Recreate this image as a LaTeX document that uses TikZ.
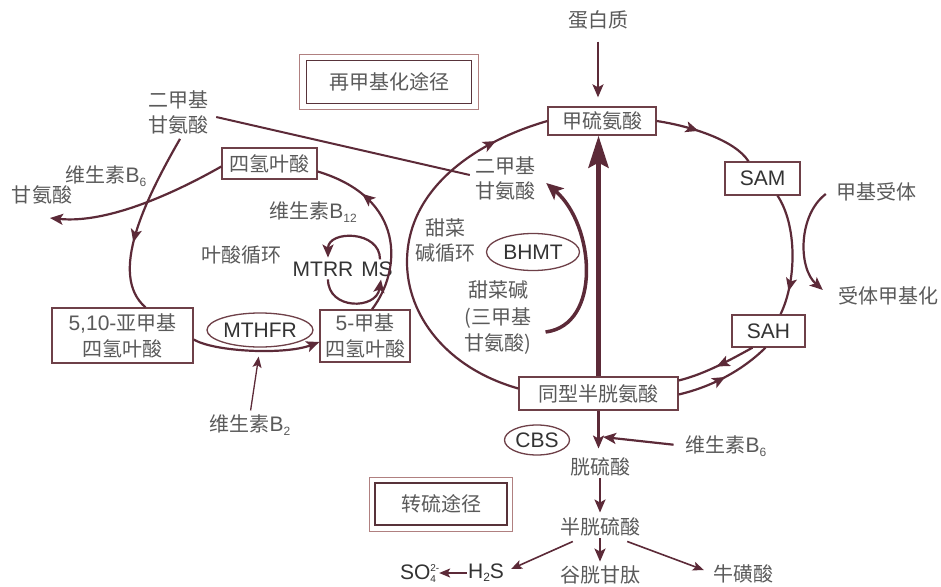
\documentclass[tikz,border=0pt]{standalone}
\usepackage{fontspec}
\setmainfont{Noto Sans CJK SC}
\newfontfamily\lat{Liberation Sans}
\usetikzlibrary{arrows.meta,shapes.geometric,decorations.markings,calc}
\definecolor{lc}{HTML}{5C2A38}
\definecolor{bc}{HTML}{6E4048}
\definecolor{tg}{HTML}{5A5A5A}
\definecolor{td}{HTML}{333333}
\definecolor{ob}{HTML}{B08080}
\newcommand{\Bsub}[1]{{\lat\fontsize{21}{25}\selectfont B\raisebox{-4pt}{\fontsize{12}{12}\selectfont #1}}}
\tikzset{
 cn/.style={font=\fontsize{20}{25}\selectfont, text=tg, inner sep=0pt, align=center},
 la/.style={font=\lat\fontsize{21}{25}\selectfont, text=td, inner sep=0pt},
 bx/.style={cn, draw=bc, line width=1.3pt},
 bxl/.style={la, draw=bc, line width=1.3pt},
 el/.style={la, ellipse, draw=bc, line width=1.3pt},
 inbox/.style={cn, draw=bc!80!black, line width=1.6pt},
 outbox/.style={draw=ob, line width=1pt},
 ln/.style={draw=lc, line width=2.2pt},
 lnthin/.style={draw=lc, line width=1.6pt},
 endarr/.style={-{Stealth[length=13pt,width=11pt,inset=3pt]}},
 endsmall/.style={-{Stealth[length=11pt,width=9pt,inset=2.5pt]}},
 midarr/.style={postaction={decorate,decoration={markings,mark=at position #1 with {\arrow[lc]{Stealth[length=13pt,width=11pt,inset=3pt]}}}}},
}
\begin{document}
\begin{tikzpicture}[x=1pt,y=-1pt]
\fill[white] (0,0) rectangle (941,586);
\useasboundingbox (0,0) rectangle (941,586);

% ---- nodes ----
\node[cn] (prot) at (598,20) {蛋白质};
\node[bx, minimum width=108pt, minimum height=28pt] (met) at (602,121) {甲硫氨酸};
\node[inbox, minimum width=165pt, minimum height=43pt] (remeth) at (389,82) {再甲基化途径};
\draw[outbox] ([xshift=-6pt,yshift=5pt]remeth.north west) rectangle ([xshift=6pt,yshift=-5pt]remeth.south east);

\node[cn] (dmgL) at (178,112) {二甲基\\甘氨酸};
\node[cn] (vb6l) at (106,176) {维生素\Bsub{6}};
\node[cn] (gly) at (42,195) {甘氨酸};
\coordinate (glyend) at (50,218);
\node[bx, minimum width=95pt, minimum height=31pt] (thf) at (269.5,163.5) {四氢叶酸};
\node[cn] (vb12) at (313,212) {维生素\Bsub{12}};
\node[cn] (fcyc) at (241,255) {叶酸循环};
\node[la] (mtrr) at (323,269) {MTRR};
\node[la] (ms) at (377,269) {MS};
\node[bx, minimum width=141pt, minimum height=55pt, font=\fontsize{20}{26}\selectfont] (m510) at (122.5,335.5) {{\lat\fontsize{21}{26}\selectfont 5,10-}亚甲基\\四氢叶酸};
\node[el, minimum width=106pt, minimum height=34pt] (mthfr) at (260,330) {MTHFR};
\node[bx, minimum width=90pt, minimum height=52pt, font=\fontsize{20}{26}\selectfont] (me5) at (365,336) {{\lat\fontsize{21}{26}\selectfont 5-}甲基\\四氢叶酸};
\node[cn] (vb2) at (250,425) {维生素\Bsub{2}};

\node[cn] (dmgR) at (505,178) {二甲基\\甘氨酸};
\node[cn] (bcyc) at (445,240) {甜菜\\碱循环};
\node[el, minimum width=93pt, minimum height=37pt] (bhmt) at (533,252) {BHMT};
\node[cn, font=\fontsize{20}{26.5}\selectfont] (bet) at (498,318) {甜菜碱\\(三甲基\\甘氨酸)};

\node[bxl, minimum width=75pt, minimum height=33pt] (sam) at (762.5,178.5) {SAM};
\node[bxl, minimum width=73pt, minimum height=32pt] (sah) at (768.5,331) {SAH};
\node[cn] (acc) at (876,192) {甲基受体};
\node[cn] (accm) at (888,296) {受体甲基化};
\node[bx, minimum width=159pt, minimum height=33pt] (homo) at (598.5,393.5) {同型半胱氨酸};
\node[el, minimum width=65pt, minimum height=30pt] (cbs) at (537,440) {CBS};
\node[cn] (cyst) at (600,467) {胱硫酸};
\node[cn] (vb6r) at (726,446) {维生素\Bsub{6}};
\coordinate (jn) at (603,437);
\node[cn] (hcys) at (600,527) {半胱硫酸};
\node[cn] (gsh) at (600,575) {谷胱甘肽};
\node[cn] (tau) at (743,574) {牛磺酸};
\node[la] (h2s) at (486,573) {H\raisebox{-3pt}{\fontsize{12}{12}\selectfont 2}S};
\node[la] (so4) at (418,573) {SO\rlap{\raisebox{8pt}{\fontsize{10}{10}\selectfont 2-}}\raisebox{-3pt}{\fontsize{10}{10}\selectfont 4}\hspace{5pt}};
\node[inbox, minimum width=132pt, minimum height=42pt] (sulf) at (441,504) {转硫途径};
\draw[outbox] ([xshift=-5pt,yshift=5pt]sulf.north west) rectangle ([xshift=5pt,yshift=-6pt]sulf.south east);

% ---- connectors ----
\draw[ln, endarr, shorten <=12pt, shorten >=9pt] (prot) -- (prot |- met.north);
% big cycle, left arc
\draw[ln, midarr=0.86] ([yshift=5pt]homo.west) .. controls (446,368) and (407,315) .. (407,262)
      .. controls (407,187) and (478,141) .. (met.west);
% met -> SAM
\draw[ln, midarr=0.42] (met.east) .. controls (690,126) and (735,140) .. ([xshift=-14pt]sam.north);
% SAM -> SAH
\draw[ln, midarr=0.8] ([xshift=15pt]sam.south) .. controls (797,225) and (797,280) .. ([xshift=12pt]sah.north);
% acceptor
\draw[ln, endarr] ([xshift=-10pt,yshift=-2pt]acc.west) .. controls (798,215) and (798,268) .. ([xshift=-15pt,yshift=6pt]accm.west);
% SAH <-> homocysteine
\draw[ln, midarr=0.5] ([xshift=-16pt]sah.south) .. controls (730,360) and (705,374) .. ([yshift=13pt]homo.east);
\draw[ln, midarr=0.5] ([yshift=-1pt]homo.east) .. controls (715,386) and (745,368) .. ([xshift=-3pt]sah.south);
% thick remethylation arrow
\draw[lc, line width=5pt, -{Stealth[length=32pt,width=20pt,inset=5pt]}] (homo.north) -- (homo.north |- met.south);
% folate cycle
\draw[ln, midarr=0.72] ([xshift=7pt]me5.north) .. controls (402,270) and (406,198) .. ([yshift=-8pt]thf.east);
\draw[ln, endarr] ([xshift=3pt,yshift=2pt]ms.north) .. controls (380,230) and (328,230) .. ([xshift=5pt,yshift=4pt]mtrr.north);
\draw[ln, endarr] ([xshift=5pt,yshift=-3pt]mtrr.south) .. controls (328,310) and (376,310) .. ([xshift=4pt,yshift=-3pt]ms.south);
\draw[ln, endarr] ([yshift=-4pt]m510.east) .. controls (215,352) and (285,355) .. ([yshift=-6pt]me5.west);
\draw[lnthin, line width=1.3pt, endsmall, shorten <=4pt, shorten >=9pt] (vb2.north) -- (mthfr.south);
\draw[ln, midarr=0.62] ([xshift=2pt,yshift=-5pt]dmgL.south) .. controls (145,200) and (108,275) .. ([xshift=23pt]m510.north);
\draw[ln, endarr] ([yshift=-3pt]thf.west) .. controls (180,190) and (110,224) .. (glyend);
\draw[ln, line width=2pt] ([xshift=8pt,yshift=-5pt]dmgL.east) -- ([xshift=-5pt,yshift=3pt]dmgR.west);
% BHMT
\draw[lc, line width=3.5pt, -{Stealth[length=17pt,width=15pt,inset=4pt]}] ([xshift=14pt,yshift=-14pt]bet.east) .. controls (602,325) and (595,225) .. ([xshift=11pt,yshift=-5pt]dmgR.east);
% transsulfuration
\draw[ln, endarr, shorten >=9pt] (homo.south) -- (homo.south |- cyst.north);
\draw[ln, endarr, shorten <=12pt] (vb6r.west) -- (jn);
\draw[ln, endarr, shorten <=2pt, shorten >=5pt] (cyst.south) -- (cyst.south |- hcys.north);
\draw[ln, endarr, shorten <=2pt, shorten >=4pt] (hcys.south) -- (hcys.south |- gsh.north);
\draw[lnthin, endsmall] ([xshift=-13pt,yshift=-5pt]hcys.south east) -- ([xshift=-9pt,yshift=4pt]tau.west);
\draw[lnthin, endsmall] ([xshift=13pt,yshift=-5pt]hcys.south west) -- ([xshift=7pt,yshift=4pt]h2s.east);
\draw[lnthin, endsmall, shorten <=1pt, shorten >=3pt] (h2s.west) -- (so4.east);
\end{tikzpicture}
\end{document}
